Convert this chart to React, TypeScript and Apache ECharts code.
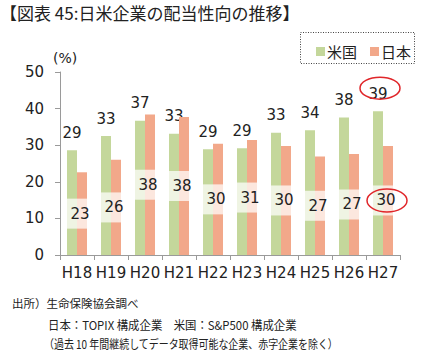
import React, { useEffect, useRef } from "react";
import * as echarts from "echarts";

const categories = ["H18", "H19", "H20", "H21", "H22", "H23", "H24", "H25", "H26", "H27"];
const usValues = [29, 33, 37, 33, 29, 29, 33, 34, 38, 39];
const jpValues = [23, 26, 38, 38, 30, 31, 30, 27, 27, 30];
const usBarValues = [28.6, 32.5, 36.7, 33.1, 28.9, 29.2, 33.4, 34.1, 37.6, 39.3];
const jpBarValues = [22.6, 26.0, 38.4, 37.7, 30.4, 31.4, 29.8, 26.9, 27.6, 29.8];
const yTicks = [0, 10, 20, 30, 40, 50];

const FONT = "'DejaVu Sans', 'Noto Sans CJK JP', sans-serif";
const JFONT = "'Noto Sans CJK JP', sans-serif";

export default function App() {
  const ref = useRef<HTMLDivElement>(null);
  useEffect(() => {
    if (!ref.current) return;
    const chart = echarts.init(ref.current, null, { renderer: "svg" });
    const option: any = {
      animation: false,
      backgroundColor: "#fff",
      textStyle: { fontFamily: FONT },
      grid: { left: 60, right: 25, top: 72, bottom: 99 },
      legend: {
        left: 311,
        top: 39,
        itemWidth: 9,
        itemHeight: 9,
        itemGap: 13,
        icon: "rect",
        textStyle: { fontFamily: JFONT, fontSize: 15, color: "#222", padding: [0, 0, 0, -3] },
        data: ["米国", "日本"],
      },
      xAxis: {
        type: "category",
        data: categories,
        axisLine: { lineStyle: { color: "#9a9a9a" } },
        axisTick: { show: true, lineStyle: { color: "#9a9a9a" } },
        axisLabel: { color: "#222", fontSize: 15, fontFamily: FONT, margin: 10, interval: 0 },
      },
      yAxis: {
        type: "value",
        min: yTicks[0],
        max: yTicks[yTicks.length - 1],
        interval: 10,
        splitLine: { show: false },
        axisLine: { show: true, lineStyle: { color: "#9a9a9a" } },
        axisTick: { show: true, lineStyle: { color: "#9a9a9a" } },
        axisLabel: { color: "#222", fontSize: 15, fontFamily: FONT, margin: 16 },
      },
      series: [
        {
          name: "米国",
          type: "bar",
          data: usBarValues,
          barWidth: 10,
          barGap: "0%",
          itemStyle: { color: "#c4d79b" },
          label: {
            show: true,
            position: "top",
            distance: 10,
            color: "#222",
            fontSize: 15,
            fontFamily: FONT,
            formatter: (p: any) => String(usValues[p.dataIndex]),
          },
          z: 2,
        },
        {
          name: "日本",
          type: "bar",
          data: jpBarValues,
          barWidth: 10,
          barGap: "0%",
          itemStyle: { color: "#f2a88a" },
          label: {
            show: true,
            position: "inside",
            offset: [-5, 0],
            color: "#222",
            fontSize: 15,
            fontFamily: FONT,
            backgroundColor: "rgba(255,255,255,0.72)",
            width: 16,
            height: 30,
            lineHeight: 30,
            padding: [0, 0, 0, 6],
            align: "center",
            overflow: "none",
            formatter: (p: any) => String(jpValues[p.dataIndex]),
          },
          z: 3,
        },
      ],
    };
    chart.setOption(option);

    const last = categories.length - 1;
    const pUs = chart.convertToPixel({ gridIndex: 0 } as any, [last, usBarValues[last]]) as number[];
    const pJp = chart.convertToPixel({ gridIndex: 0 } as any, [last, jpBarValues[last] / 2]) as number[];

    chart.setOption({
      graphic: [
        {
          type: "text",
          left: 0,
          top: 4,
          style: { text: "【図表 45:日米企業の配当性向の推移】", font: `17px ${JFONT}`, fill: "#222" },
        },
        {
          type: "text",
          left: 53,
          top: 51,
          style: { text: "(%)", font: `14px ${FONT}`, fill: "#222" },
        },
        {
          type: "rect",
          shape: { x: 300.5, y: 32.5, width: 114, height: 31 },
          style: { fill: "none", stroke: "#444", lineWidth: 1, lineDash: [1, 1.5] },
        },
        {
          type: "ellipse",
          shape: { cx: pUs[0] - 3, cy: pUs[1] - 23, rx: 20, ry: 11 },
          style: { fill: "none", stroke: "#e0262a", lineWidth: 1.5 },
          z: 10,
        },
        {
          type: "ellipse",
          shape: { cx: pJp[0] + 4, cy: pJp[1], rx: 20, ry: 11.5 },
          style: { fill: "none", stroke: "#e0262a", lineWidth: 1.5 },
          z: 10,
        },
        {
          type: "text",
          left: 12,
          top: 297,
          style: { text: "出所）生命保険協会調べ", font: `11.5px ${JFONT}`, fill: "#222" },
        },
        {
          type: "text",
          x: 48,
          y: 318,
          scaleX: 0.95,
          style: { text: "日本：TOPIX 構成企業　米国：S&P500 構成企業", font: `12px ${JFONT}`, fill: "#222" },
        },
        {
          type: "text",
          x: 44,
          y: 338,
          scaleX: 0.83,
          style: { text: "（過去 10 年間継続してデータ取得可能な企業、赤字企業を除く）", font: `12px ${JFONT}`, fill: "#222" },
        },
      ],
    });

    return () => chart.dispose();
  }, []);
  return <div ref={ref} style={{ width: 425, height: 354, position: "absolute", left: 0, top: 0 }} />;
}
